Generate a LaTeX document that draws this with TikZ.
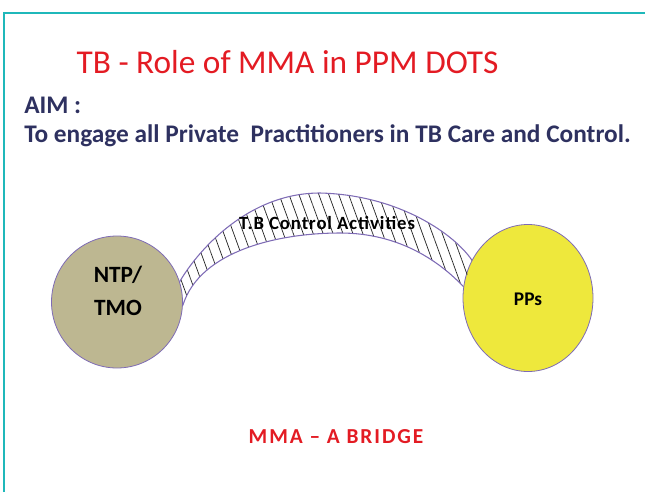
\documentclass[tikz,border=0pt]{standalone}
\usepackage{fontspec}
\setmainfont{Carlito}
\usetikzlibrary{positioning,shapes.geometric,patterns.meta}

\definecolor{frameteal}{HTML}{1FB8BA}
\definecolor{titlered}{HTML}{E31B23}
\definecolor{aimnavy}{HTML}{2E3160}
\definecolor{ntpfill}{HTML}{BDB791}
\definecolor{ppsfill}{HTML}{EEE83C}
\definecolor{rimpurple}{HTML}{7E6BB5}

% #1 name, #2 x, #3 y, #4 width, #5 height, #6 fill
\newcommand{\myBlob}[6]{
    \node[blob,fill=#6,minimum width=#4*0.75pt,minimum height=#5*0.75pt] (#1) at (#2,#3) {};
}

\begin{document}
\begin{tikzpicture}[x=0.75pt,y=-0.75pt,
    blob/.style={ellipse,draw=rimpurple,line width=0.6pt,inner sep=0pt},
    blobtext/.style={align=center,inner sep=0pt,font=\bfseries\fontsize{17.5}{25}\selectfont},
    band/.style={pattern={Lines[angle=110,distance=7pt,line width=0.55pt]},pattern color=black!85},
    rim/.style={draw=rimpurple,line width=0.8pt}]
  \useasboundingbox (0,0) rectangle (645,492);
  \draw[frameteal,line width=2pt] (4,492) -- (4,13) -- (645,13);

  \node[titlered,font=\fontsize{25}{29}\selectfont] (title) at (287.5,62) {TB - Role of MMA in PPM DOTS};
  \node[aimnavy,font=\bfseries\fontsize{19}{22}\selectfont,anchor=base west,inner sep=0pt] (aim) at (24,113) {AIM :};
  \node[aimnavy,font=\bfseries\fontsize{19}{22}\selectfont,anchor=base west,inner sep=0pt] (goal) at (24,142)
    {To engage all Private\ \ Practitioners in TB Care and Control.};

  \myBlob{ntp}{117}{302}{131}{132}{ntpfill}
  \myBlob{pps}{528}{298}{130}{147}{ppsfill}
  \node[blobtext] (ntptext) at (118,291) {NTP/\\TMO};
  \node[blobtext,font=\bfseries\fontsize{14.5}{16}\selectfont] (ppstext) at (528,299) {PPs};

  % the bridge
  \fill[band] (ntp.18) .. controls (195,255) and (245,193) .. (320,193)
    .. controls (400,195) and (455,235) .. (pps.146) -- (pps.170)
    .. controls (440,262) and (400,233) .. (340,233)
    .. controls (280,233) and (200,250) .. (ntp.-3) -- cycle;
  \draw[rim] (ntp.18) .. controls (195,255) and (245,193) .. (320,193)
    .. controls (400,195) and (455,235) .. (pps.146);
  \draw[rim] (pps.170) .. controls (440,262) and (400,233) .. (340,233)
    .. controls (280,233) and (200,250) .. (ntp.-3);
  \node[font=\bfseries\fontsize{14}{16}\selectfont\addfontfeature{LetterSpace=5},inner sep=0pt] (activities) at (327,223) {T.B Control Activities};

  \node[titlered,font=\bfseries\fontsize{16}{19}\selectfont\addfontfeature{LetterSpace=9}] (bridge) at (336,437) {MMA -- A BRIDGE};
\end{tikzpicture}
\end{document}
